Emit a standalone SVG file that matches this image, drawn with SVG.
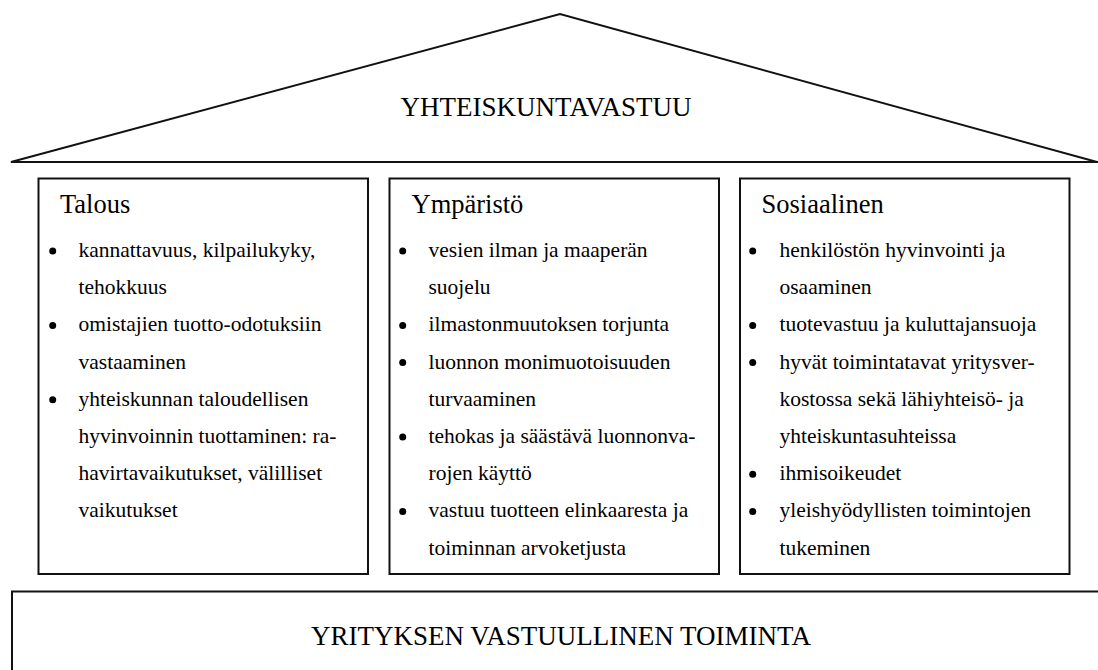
<svg xmlns="http://www.w3.org/2000/svg" width="1098" height="670" viewBox="0 0 1098 670">
<style>
.ln{fill:none;stroke:#111;stroke-width:2}
.title{font-family:"Liberation Serif","Times New Roman",serif;font-size:27px;fill:#000;text-anchor:middle}
.head{font-family:"Liberation Serif","Times New Roman",serif;font-size:26.5px;fill:#000}
.item{font-family:"Liberation Serif","Times New Roman",serif;font-size:21.5px;fill:#000}
.dot{fill:#000}
</style>
<rect width="1098" height="670" fill="#fff"/>
<g id="roof">
<polygon class="ln" points="11,162 560,14 1097,162"/>
<line class="ln" x1="11" y1="162" x2="1098" y2="162"/>
<text class="title" x="546" y="116">YHTEISKUNTAVASTUU</text>
</g>
<g id="talous">
<rect class="ln" x="38.5" y="178.5" width="329.5" height="395.5"/>
<text class="head" x="60" y="213">Talous</text>
<circle class="dot" cx="52.7" cy="251" r="3.5"/>
<circle class="dot" cx="52.7" cy="325.4" r="3.5"/>
<circle class="dot" cx="52.7" cy="399.8" r="3.5"/>
<text class="item" x="78.5" y="257">kannattavuus, kilpailukyky,</text>
<text class="item" x="78.5" y="294.2">tehokkuus</text>
<text class="item" x="78.5" y="331.4">omistajien tuotto-odotuksiin</text>
<text class="item" x="78.5" y="368.6">vastaaminen</text>
<text class="item" x="78.5" y="405.8">yhteiskunnan taloudellisen</text>
<text class="item" x="78.5" y="443">hyvinvoinnin tuottaminen: ra-</text>
<text class="item" x="78.5" y="480.2">havirtavaikutukset, välilliset</text>
<text class="item" x="78.5" y="517.4">vaikutukset</text>
</g>
<g id="ymparisto">
<rect class="ln" x="389.5" y="178.5" width="329.5" height="395.5"/>
<text class="head" x="411.5" y="213">Ympäristö</text>
<circle class="dot" cx="402.7" cy="251" r="3.5"/>
<circle class="dot" cx="402.7" cy="325.4" r="3.5"/>
<circle class="dot" cx="402.7" cy="362.6" r="3.5"/>
<circle class="dot" cx="402.7" cy="437" r="3.5"/>
<circle class="dot" cx="402.7" cy="511.4" r="3.5"/>
<text class="item" x="428.5" y="257">vesien ilman ja maaperän</text>
<text class="item" x="428.5" y="294.2">suojelu</text>
<text class="item" x="428.5" y="331.4">ilmastonmuutoksen torjunta</text>
<text class="item" x="428.5" y="368.6">luonnon monimuotoisuuden</text>
<text class="item" x="428.5" y="405.8">turvaaminen</text>
<text class="item" x="428.5" y="443">tehokas ja säästävä luonnonva-</text>
<text class="item" x="428.5" y="480.2">rojen käyttö</text>
<text class="item" x="428.5" y="517.4">vastuu tuotteen elinkaaresta ja</text>
<text class="item" x="428.5" y="554.6">toiminnan arvoketjusta</text>
</g>
<g id="sosiaalinen">
<rect class="ln" x="740" y="178.5" width="329.5" height="395.5"/>
<text class="head" x="761.5" y="213">Sosiaalinen</text>
<circle class="dot" cx="752.7" cy="251" r="3.5"/>
<circle class="dot" cx="752.7" cy="325.4" r="3.5"/>
<circle class="dot" cx="752.7" cy="362.6" r="3.5"/>
<circle class="dot" cx="752.7" cy="474.2" r="3.5"/>
<circle class="dot" cx="752.7" cy="511.4" r="3.5"/>
<text class="item" x="779.5" y="257">henkilöstön hyvinvointi ja</text>
<text class="item" x="779.5" y="294.2">osaaminen</text>
<text class="item" x="779.5" y="331.4">tuotevastuu ja kuluttajansuoja</text>
<text class="item" x="779.5" y="368.6">hyvät toimintatavat yritysver-</text>
<text class="item" x="779.5" y="405.8">kostossa sekä lähiyhteisö- ja</text>
<text class="item" x="779.5" y="443">yhteiskuntasuhteissa</text>
<text class="item" x="779.5" y="480.2">ihmisoikeudet</text>
<text class="item" x="779.5" y="517.4">yleishyödyllisten toimintojen</text>
<text class="item" x="779.5" y="554.6">tukeminen</text>
</g>
<g id="foundation">
<rect class="ln" x="12" y="591.5" width="1100" height="100"/>
<text class="title" x="561" y="645">YRITYKSEN VASTUULLINEN TOIMINTA</text>
</g>
<g id="connectors"></g>
</svg>
